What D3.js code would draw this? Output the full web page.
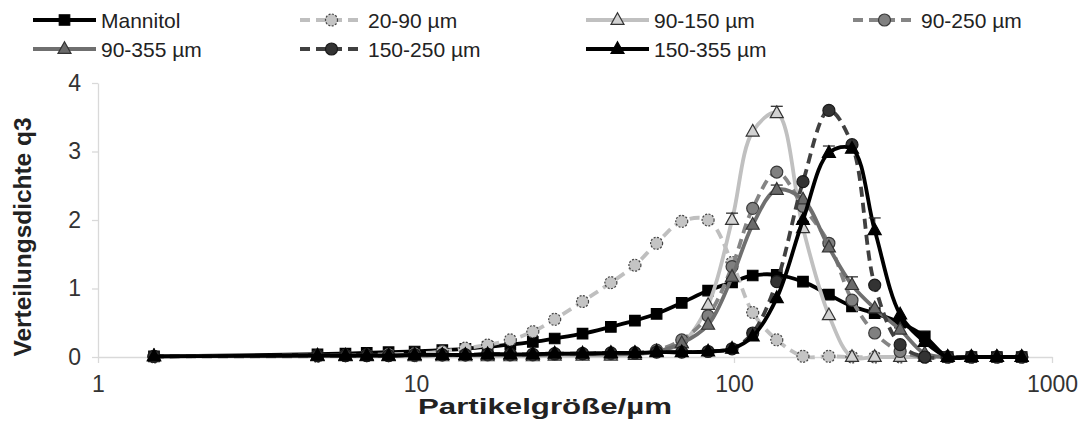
<!DOCTYPE html>
<html><head><meta charset="utf-8">
<script src="https://cdn.jsdelivr.net/npm/d3@7"></script>
<style>body{margin:0;background:#fff}svg{display:block}</style>
</head><body>
<svg id="c" width="1086" height="421"></svg>
<script>
// ---------- data ----------
const sizes = [1.5, 4.9, 6.0, 7.0, 8.2, 9.9, 12.1, 14.3, 16.8, 19.8, 23.3, 27.3, 33.4, 41, 48.8, 57.1, 68.5, 82.9, 98.6, 114.5, 136.3, 164.8, 198.8, 235, 277, 333, 398, 470, 558, 671, 803];
const seriesNames = ["Mannitol", "20-90 µm", "90-150 µm", "90-250 µm", "90-355 µm", "150-250 µm", "150-355 µm"];
const mannitol = [0.01,0.04,0.05,0.06,0.07,0.08,0.10,0.12,0.15,0.18,0.22,0.27,0.34,0.44,0.53,0.63,0.79,0.97,1.09,1.19,1.20,1.10,0.91,0.74,0.64,0.50,0.30,0,0,0,0];
const s20_90 = [0,0.01,0.02,0.03,0.04,0.05,0.08,0.13,0.175,0.25,0.37,0.55,0.81,1.085,1.34,1.66,1.98,2.0,1.38,0.65,0.25,0.01,0.01,0,0,0,0,0,0,0,0];
const s90_150 = [0.01,0.01,0.01,0.01,0.01,0.01,0.01,0.01,0.01,0.01,0.01,0.02,0.02,0.02,0.03,0.08,0.2,0.76,2.0,3.29,3.56,1.88,0.61,0,0,0,0,0,0,0,0];
const s90_250 = [0.01,0.02,0.02,0.02,0.02,0.02,0.03,0.03,0.03,0.03,0.03,0.04,0.05,0.05,0.06,0.1,0.25,0.6,1.32,2.17,2.7,2.2,1.66,0.83,0.35,0.08,0,0,0,0,0];
const s90_355 = [0.01,0.02,0.02,0.02,0.02,0.02,0.03,0.03,0.03,0.03,0.03,0.04,0.04,0.04,0.05,0.08,0.2,0.47,1.17,1.93,2.44,2.3,1.6,1.05,0.71,0.4,0.05,0,0,0,0];
const s150_250 = [0.01,0.02,0.02,0.02,0.02,0.03,0.03,0.03,0.04,0.04,0.04,0.05,0.05,0.06,0.06,0.07,0.07,0.08,0.12,0.35,1.1,2.56,3.6,3.1,1.05,0.18,0,0,0,0,0];
const s150_355 = [0.01,0.02,0.02,0.02,0.02,0.03,0.03,0.03,0.04,0.04,0.04,0.05,0.05,0.06,0.06,0.07,0.07,0.08,0.12,0.3,0.86,2.0,2.98,3.04,1.85,0.62,0.22,0,0,0,0];
// error bars: [series, index, +error]
const errorBars = [["90-150 µm",18,0.1],["90-150 µm",20,0.1],["90-150 µm",21,0.1],["90-355 µm",20,0.07],["90-355 µm",23,0.12],["150-355 µm",22,0.1],["150-355 µm",24,0.18]];
const xTicks = [1, 10, 100, 1000];
const yTicks = [0, 1, 2, 3, 4];
const xTitle = "Partikelgröße/µm";
const yTitle = "Verteilungsdichte q3";

// ---------- styles ----------
const styles = {
  "Mannitol":   {values: mannitol, line:"#000000", dash:null, marker:"square", fill:"#000000", mstroke:"#000000", mdash:null},
  "20-90 µm":   {values: s20_90,   line:"#bfbfbf", dash:"10,6", marker:"circle", fill:"#c4c4c4", mstroke:"#444", mdash:"2,1.5"},
  "90-150 µm":  {values: s90_150,  line:"#c0c0c0", dash:null, marker:"triangle", fill:"#d2d2d2", mstroke:"#333", mdash:null},
  "90-250 µm":  {values: s90_250,  line:"#858585", dash:"10,6", marker:"circle", fill:"#808080", mstroke:"#3a3a3a", mdash:null},
  "90-355 µm":  {values: s90_355,  line:"#6f6f6f", dash:null, marker:"triangle", fill:"#6a6a6a", mstroke:"#333", mdash:null},
  "150-250 µm": {values: s150_250, line:"#404040", dash:"10,6", marker:"circle", fill:"#333333", mstroke:"#1a1a1a", mdash:null},
  "150-355 µm": {values: s150_355, line:"#000000", dash:null, marker:"triangle", fill:"#000000", mstroke:"#000", mdash:null}
};

const svg = d3.select("#c");
const x = d3.scaleLog().domain([1, 1000]).range([98, 1052]);
const y = d3.scaleLinear().domain([0, 4]).range([357, 83]);
const FONT = "Liberation Sans, Arial, sans-serif";

// axes
const gx = svg.append("g").attr("transform", `translate(0,${y(0)})`)
  .call(d3.axisBottom(x).tickValues(xTicks).tickFormat(d3.format("d")).tickSize(6).tickSizeOuter(0).tickPadding(13));
const gy = svg.append("g").attr("transform", `translate(${x(1)},0)`)
  .call(d3.axisLeft(y).tickValues(yTicks).tickFormat(d3.format("d")).tickSize(6).tickSizeOuter(0).tickPadding(11));
[gx, gy].forEach(g => {
  g.select(".domain").attr("stroke", "#d9d9d9").attr("stroke-width", 1.3);
  g.selectAll(".tick line").attr("stroke", "#d9d9d9").attr("stroke-width", 1.3);
  g.selectAll(".tick text").attr("fill", "#333").style("font-family", FONT).style("font-size", "23px");
});

function markerPath(type, s) {
  if (type === "square") return `M${-s/2},${-s/2}h${s}v${s}h${-s}Z`;
  if (type === "triangle") { const h = s*0.9; return `M0,${-h*0.62}L${s/2},${h*0.38}L${-s/2},${h*0.38}Z`; }
  const r = s/2; return `M${r},0A${r},${r} 0 1,1 ${-r},0A${r},${r} 0 1,1 ${r},0Z`;
}
const msize = {square: 10.5, circle: 12, triangle: 13};

const line = d3.line().x(d => x(d[0])).y(d => y(d[1])).curve(d3.curveCatmullRom.alpha(0.5));

seriesNames.forEach(name => {
  const st = styles[name];
  const pts = sizes.map((s, i) => [s, st.values[i]]);
  const g = svg.append("g");
  g.append("path").attr("d", line(pts)).attr("fill", "none")
    .attr("stroke", st.line).attr("stroke-width", 3.8)
    .attr("stroke-dasharray", st.dash);
  errorBars.filter(e => e[0] === name).forEach(e => {
    const cx = x(sizes[e[1]]), v = st.values[e[1]];
    g.append("line").attr("x1", cx).attr("x2", cx).attr("y1", y(v)).attr("y2", y(v + e[2])).attr("stroke", "#222").attr("stroke-width", 1.2);
    g.append("line").attr("x1", cx-6).attr("x2", cx+6).attr("y1", y(v + e[2])).attr("y2", y(v + e[2])).attr("stroke", "#222").attr("stroke-width", 1.2);
  });
  g.selectAll("path.m").data(pts).join("path").attr("class", "m")
    .attr("transform", d => `translate(${x(d[0])},${y(d[1])})`)
    .attr("d", markerPath(st.marker, msize[st.marker]))
    .attr("fill", st.fill).attr("stroke", st.mstroke).attr("stroke-width", 1.2)
    .attr("stroke-dasharray", st.mdash);
});

// titles
svg.append("text").attr("x", 545).attr("y", 414).attr("text-anchor", "middle")
  .attr("textLength", 254).attr("lengthAdjust", "spacingAndGlyphs")
  .style("font-family", FONT).style("font-size", "22px").style("font-weight", "bold").attr("fill", "#222").text(xTitle);
svg.append("text").attr("transform", `translate(31,237) rotate(-90)`).attr("text-anchor", "middle")
  .attr("textLength", 239).attr("lengthAdjust", "spacingAndGlyphs")
  .style("font-family", FONT).style("font-size", "23px").style("font-weight", "bold").attr("fill", "#222").text(yTitle);

// legend
const legendPos = [[33,20],[300,20],[586,20],[853,20],[33,49],[300,49],[586,49]];
seriesNames.forEach((name, i) => {
  const st = styles[name];
  const [lx, ly] = legendPos[i];
  const g = svg.append("g").attr("transform", `translate(${lx},${ly})`);
  g.append("line").attr("x1", 0).attr("x2", 63).attr("y1", 0).attr("y2", 0)
    .attr("stroke", st.line).attr("stroke-width", 3.8).attr("stroke-dasharray", st.dash ? "10,6" : null);
  g.append("path").attr("transform", "translate(31.5,0)").attr("d", markerPath(st.marker, msize[st.marker]))
    .attr("fill", st.fill).attr("stroke", st.mstroke).attr("stroke-width", 1.2).attr("stroke-dasharray", st.mdash);
  g.append("text").attr("x", 68).attr("y", 7.5).style("font-family", FONT).style("font-size", "21px")
    .attr("fill", "#222").text(name);
});
</script>
</body></html>
